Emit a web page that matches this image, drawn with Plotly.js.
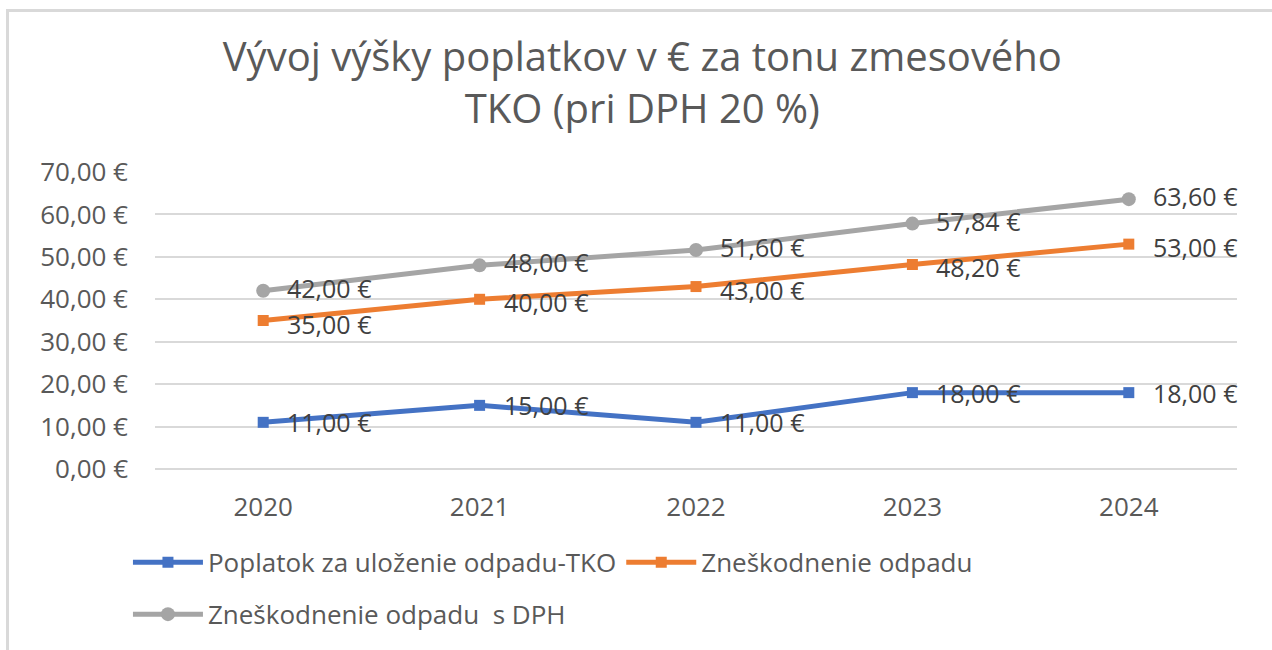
<!DOCTYPE html>
<html>
<head>
<meta charset="utf-8">
<script src="https://cdn.plot.ly/plotly-3.0.1.min.js"></script>
<style>
html,body{margin:0;padding:0;background:#fff;}
#wrap{position:relative;width:1272px;height:650px;overflow:hidden;}
#frame{position:absolute;left:6px;top:9px;width:1300px;height:700px;border-top:3px solid #d9d9d9;border-left:3px solid #d9d9d9;pointer-events:none;}
#chart{position:absolute;left:0;top:0;width:1272px;height:650px;}
</style>
</head>
<body>
<div id="wrap">
<div id="chart"></div>
<div id="frame"></div>
</div>
<script>
const years = ['2020', '2021', '2022', '2023', '2024'];
const poplatok = [11.00, 15.00, 11.00, 18.00, 18.00];
const zneskodnenie = [35.00, 40.00, 43.00, 48.20, 53.00];
const zneskodnenieDPH = [42.00, 48.00, 51.60, 57.84, 63.60];
const seriesNames = ['Poplatok za uloženie odpadu-TKO', 'Zneškodnenie odpadu', 'Zneškodnenie odpadu  s DPH'];
const titleText = 'Vývoj výšky poplatkov v € za tonu zmesového<br>TKO (pri DPH 20 %)';

const fmt = v => v.toFixed(2).replace('.', ',') + ' €';
const FONT = 'Open Sans, sans-serif';

function trace(y, name, color, symbol, legend) {
  return {
    x: years, y: y, name: name, type: 'scatter', mode: 'lines+markers',
    line: {color: color, width: 5},
    marker: {color: color, symbol: symbol, size: symbol === 'circle' ? 14 : 11},
    legend: legend, hoverinfo: 'skip'
  };
}

const data = [
  trace(poplatok, seriesNames[0], '#4472C4', 'square', 'legend'),
  trace(zneskodnenie, seriesNames[1], '#ED7D31', 'square', 'legend'),
  trace(zneskodnenieDPH, seriesNames[2], '#A5A5A5', 'circle', 'legend2')
];

const annotations = [];
const nudges = [0, -3, 3];
[poplatok, zneskodnenie, zneskodnenieDPH].forEach((arr, s) => {
  arr.forEach((v, i) => {
    annotations.push({
      x: i, y: v, xref: 'x', yref: 'y', text: fmt(v), showarrow: false,
      xanchor: 'left', yanchor: 'middle', xshift: 23, yshift: nudges[s], borderpad: 0,
      font: {family: FONT, size: 25, color: '#404040'}
    });
  });
});

const layout = {
  width: 1272, height: 650,
  paper_bgcolor: '#fff', plot_bgcolor: '#fff',
  margin: {l: 155, r: 35, t: 172, b: 179},
  separators: ', ',
  title: {
    text: titleText, x: 0.505, xanchor: 'center', yref: 'container', y: 1 - 71/650, yanchor: 'top',
    font: {family: FONT, size: 40, color: '#595959'}
  },
  xaxis: {
    type: 'category', range: [-0.5, 4.5], showgrid: false, zeroline: false,
    showline: false, ticks: '', tickfont: {family: FONT, size: 26, color: '#595959'},
    ticklabelstandoff: 20
  },
  yaxis: {
    range: [0, 70], dtick: 10, tickformat: '.2f', ticksuffix: ' €',
    showgrid: true, gridcolor: '#d9d9d9', gridwidth: 2,
    zeroline: true, zerolinecolor: '#d9d9d9', zerolinewidth: 2,
    showline: false, ticks: '', tickfont: {family: FONT, size: 26, color: '#595959'},
    ticklabelstandoff: 26
  },
  showlegend: true,
  legend: {
    orientation: 'h', x: -0.025, xanchor: 'left', y: -0.235, yanchor: 'top',
    font: {family: FONT, size: 26, color: '#595959'}, itemwidth: 70, traceorder: 'normal'
  },
  legend2: {
    orientation: 'h', x: -0.025, xanchor: 'left', y: -0.41, yanchor: 'top',
    font: {family: FONT, size: 26, color: '#595959'}, itemwidth: 70
  },
  annotations: annotations
};

Plotly.newPlot('chart', data, layout, {displayModeBar: false, staticPlot: true});
</script>
</body>
</html>
